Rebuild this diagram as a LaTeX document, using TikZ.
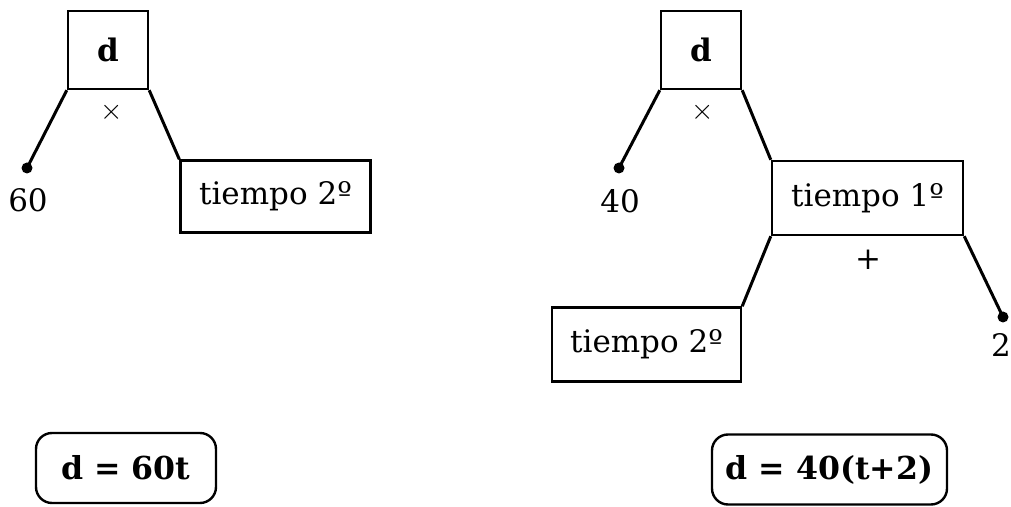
\documentclass[tikz,border=0pt]{standalone}
\usepackage{fontspec}
\setmainfont{DejaVu Serif}
\begin{document}
\begin{tikzpicture}[x=0.5pt,y=-0.5pt,
  box/.style={draw,line width=1.2pt,inner sep=0pt,font=\fontsize{15.5}{18}\selectfont},
  conn/.style={line width=1.5pt},
  dotn/.style={circle,fill,inner sep=0pt,minimum size=5.5pt},
  lbl/.style={inner sep=0pt,font=\fontsize{15.5}{18}\selectfont},
  res/.style={draw,line width=1.2pt,rounded corners=8pt,inner sep=0pt,font=\bfseries\fontsize{15.8}{19}\selectfont}]
\useasboundingbox (0,0) rectangle (1011,507);
% left tree
\node[box,minimum width=40pt,minimum height=39pt,font=\bfseries\fontsize{15.5}{18}\selectfont] (d1) at (108,50) {d};
\node[lbl] (x1) at (112,112) {$\times$};
\node[dotn] (p1) at (27,168) {};
\node[lbl] (n60) at (28,200) {60};
\node[box,minimum width=95pt,minimum height=36pt] (t1) at (275.5,196.5) {tiempo 2º};
\draw[conn] (d1.south west) -- (p1.center);
\draw[conn] (d1.south east) -- (t1.north west);
% right tree
\node[box,minimum width=40pt,minimum height=39pt,font=\bfseries\fontsize{15.5}{18}\selectfont] (d2) at (701,50) {d};
\node[lbl] (x2) at (703,112) {$\times$};
\node[dotn] (p2) at (619,168) {};
\node[lbl] (n40) at (620,201) {40};
\node[box,minimum width=95.5pt,minimum height=37pt] (t2) at (867.5,198) {tiempo 1º};
\node[lbl] (pl) at (868,260) {+};
\node[box,minimum width=94.5pt,minimum height=37pt] (t3) at (646.5,344.5) {tiempo 2º};
\node[dotn] (p3) at (1003,317) {};
\node[lbl] (n2) at (1001,345) {2};
\draw[conn] (d2.south west) -- (p2.center);
\draw[conn] (d2.south east) -- (t2.north west);
\draw[conn] (t2.south west) -- (t3.north east);
\draw[conn] (t2.south east) -- (p3.center);
% results
\node[res,minimum width=90pt,minimum height=35pt] (r1) at (126,468) {d = 60t};
\node[res,minimum width=117.5pt,minimum height=35pt] (r2) at (829.5,469.5) {d = 40(t+2)};
\end{tikzpicture}
\end{document}
